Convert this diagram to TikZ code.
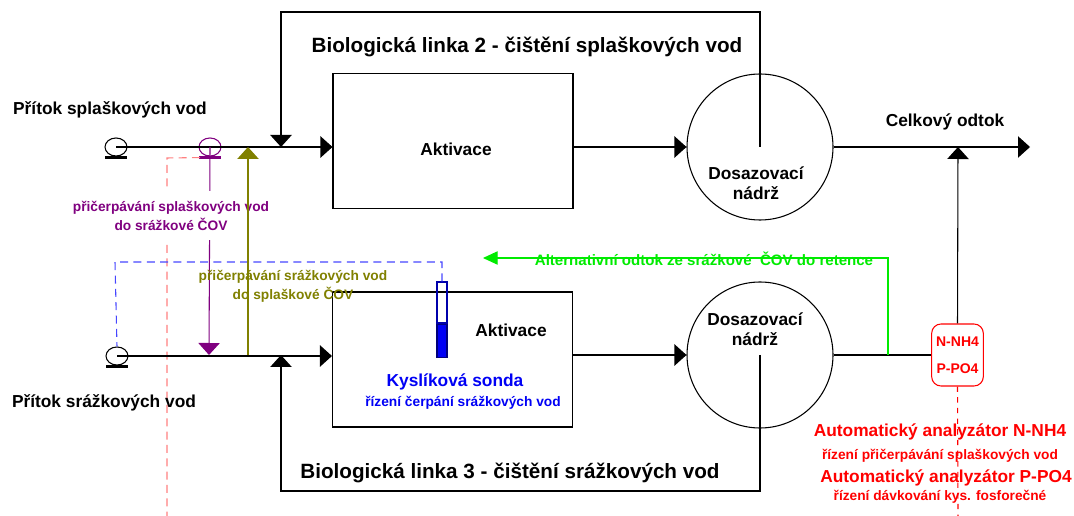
\documentclass[tikz,border=0pt]{standalone}
\usepackage{fontspec}
\setmainfont{Liberation Sans}
\usepackage{xcolor}
\usepackage{tikz}
\usetikzlibrary{arrows.meta,shapes.geometric}
\definecolor{fialova}{RGB}{128, 0, 128}
\definecolor{olivova}{RGB}{128, 128, 0}
\definecolor{zelena}{RGB}{0, 235, 0}
\definecolor{modra}{RGB}{0, 0, 245}
\definecolor{modracar}{RGB}{70, 70, 255}
\definecolor{cervena}{RGB}{255, 0, 0}
\definecolor{ruzova}{RGB}{255, 128, 128}

\tikzset{
  tok/.style={-{Triangle[width=16pt,length=9pt]}},
  vel/.style={font=\bfseries\fontsize{13}{15}\selectfont},
  nadpis/.style={font=\bfseries\fontsize{15.5}{18}\selectfont},
  mal/.style={font=\bfseries\fontsize{10.3}{14.25}\selectfont},
  nadrz/.style={draw, circle, minimum size=109.5pt, inner sep=0pt},
  aktiv/.style={draw, rectangle, minimum width=180pt, minimum height=101pt, inner sep=0pt},
  cerpadlo/.style={draw, ellipse, minimum width=16.5pt, minimum height=13.5pt, inner sep=0pt},
}

\begin{document}
\begin{tikzpicture}[x=0.75pt,y=0.75pt,yscale=-1,xscale=1,line width=0.8pt]
\useasboundingbox (0,0) rectangle (1074,516);

%Shapes: tanks and boxes
\node [aktiv] (box1) at (453,141) {};
\node [aktiv, minimum height=101.25pt] (box2) at (452.5,359.5) {};
\node [nadrz] (nadrz1) at (760,147) {};
\node [nadrz] (nadrz2) at (760,355) {};
%Shapes: pumps
\node [cerpadlo] (pump1) at (116,147) {};
\node [cerpadlo, draw=fialova] (pumpv) at (210,147) {};
\node [cerpadlo] (pump2) at (117,356) {};
\draw [line width=1.6pt] (pump1.south) ++(-11,1) -- ++(22,0);
\draw [line width=1.6pt, fialova] (pumpv.south) ++(-11,1) -- ++(22,0);
\draw [line width=1.6pt] (pump2.south) ++(-11,1) -- ++(22,0);
%Shape: oxygen probe
\node [draw=modra!70!black, minimum width=7.5pt, minimum height=30.75pt, inner sep=0pt] (sonda) at (442,302.5) {};
\node [draw=modra!50!black, fill=modra, minimum width=7.5pt, minimum height=24.75pt, inner sep=0pt, anchor=north] (sondab) at (sonda.south) {};
%Shape: analyzer
\node [draw=cervena, rounded corners=7pt, minimum width=38.25pt, minimum height=46.5pt, align=center, text=cervena, font=\bfseries\fontsize{10.5}{20}\selectfont] (analyz) at (957.5,355) {N-NH4\\P-PO4};

%Coordinates
\coordinate (r2a) at (760,12);
\coordinate (r2b) at (281,12);
\coordinate (r2c) at (281,147);
\coordinate (r3a) at (760,491);
\coordinate (r3b) at (281,491);
\coordinate (r3c) at (281,355);
\coordinate (fialb) at (209,355);
\coordinate (olivb) at (248,355);
\coordinate (olivt) at (248,147);
\coordinate (odtok) at (1030,147);
\coordinate (anTop) at (958,147);
\coordinate (zel1) at (888,355);
\coordinate (zel2) at (888,258);
\coordinate (zel3) at (483,258);
\coordinate (mod1) at (442,262);
\coordinate (mod2) at (115,262);
\coordinate (ruz1) at (167,158);
\coordinate (ruz2) at (167,516);
\coordinate (cerv1) at (958,516);

%Dashed control lines
\draw [ruzova, dash pattern=on 6pt off 4pt] (pumpv.south) ++(-10,1) -- (ruz1) -- (ruz2);
\draw [modracar, dash pattern=on 6pt off 4pt] (sonda.north) -- (mod1) -- (mod2) -- (pump2.north);
\draw [cervena, dash pattern=on 4pt off 4pt] (analyz.south) -- (cerv1);

%Straight Lines: main flow
\draw [tok] (pump1.center) -- (pump1 -| box1.west);
\draw [tok] (pump2.center) -- (pump2 -| box2.west);
\draw [tok] (box1.east |- nadrz1.center) -- (nadrz1.west);
\draw [tok] (box2.east |- nadrz2.center) -- (nadrz2.west);
\draw [tok] (nadrz1.east) -- (odtok);
\draw (nadrz2.east) -- (nadrz2 -| analyz.west);
\draw [tok] (analyz.north) -- (anTop);
%Straight Lines: recirculation
\draw [tok] (nadrz1.center) -- (r2a) -- (r2b) -- (r2c);
\draw [tok] (nadrz2.center) -- (r3a) -- (r3b) -- (r3c);
%Straight Lines: pumping between lines
\draw [tok, fialova] (pumpv.center) -- (fialb);
\node [mal, text=fialova, fill=white, align=center, inner ysep=7pt, inner xsep=2pt] (tfial) at (171,215.5) {přičerpávání splaškových vod\\do srážkové ČOV};
\draw [tok, olivova] (olivb) -- (olivt);
\node [mal, text=olivova, align=center] (toliv) at (293,286.5) {přičerpávání srážkových vod\\do splaškové ČOV};
%Straight Lines: alternative outflow
\draw [zelena, -{Triangle[width=10pt,length=11pt]}] (zel1) -- (zel2) -- (zel3);

% Text Node
\node [vel] (tsp) at (110,110) {Přítok splaškových vod};
\node [vel] (tsr) at (104,403) {Přítok srážkových vod};
\node [nadpis] (n2) at (527,47) {Biologická linka 2 - čištění splaškových vod};
\node [nadpis] (n3) at (510,473) {Biologická linka 3 - čištění srážkových vod};
\node [vel] (akt1) at (456,149) {Aktivace};
\node [vel] (akt2) at (511,330) {Aktivace};
\node [vel, align=center] (dos1) at (756,183) {Dosazovací\\nádrž};
\node [vel, align=center] (dos2) at (755,329) {Dosazovací\\nádrž};
\node [vel] (tod) at (945,122) {Celkový odtok};
\node [vel, text=modra] (ts1) at (455,382) {Kyslíková sonda};
\node [mal, text=modra] (ts2) at (463,403) {řízení čerpání srážkových vod};
\node [font=\bfseries\fontsize{11.3}{14}\selectfont, text=zelena] (tzel) at (704,259) {Alternativní odtok ze srážkové \ ČOV do retence};
\node [vel, text=cervena] (ta1) at (940,432) {Automatický analyzátor N-NH4};
\node [mal, text=cervena] (ta2) at (940,456) {řízení přičerpávání splaškových vod};
\node [vel, text=cervena] (ta3) at (946,478) {Automatický analyzátor P-PO4};
\node [mal, text=cervena] (ta4) at (940,497) {řízení dávkování kys. fosforečné};

\end{tikzpicture}
\end{document}
